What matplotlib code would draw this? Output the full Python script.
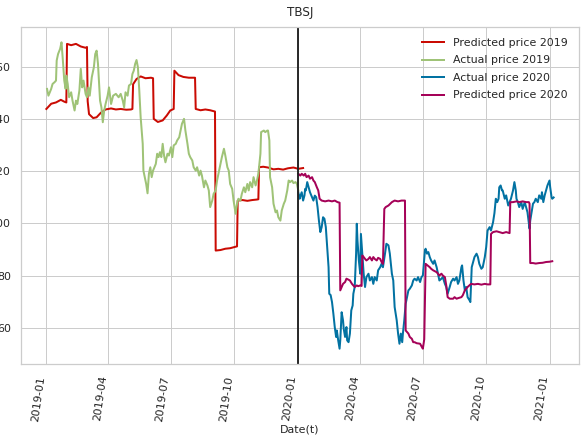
import pandas as pd
import matplotlib
matplotlib.use("Agg")
import matplotlib.pyplot as plt
import matplotlib.dates as mdates
from matplotlib.ticker import MultipleLocator

# Day offsets are counted from this date
base_date = pd.Timestamp("2019-01-01")
split_date = "2020-01-01"

# Predicted price for the 2019 period
pred19_day = [0, 7, 14, 21, 26, 29, 30, 36, 43, 50, 57, 59, 60, 62, 68, 73, 79, 86, 94, 101,
              108, 116, 123, 125, 126, 131, 137, 144, 152, 155, 156, 162, 169, 175, 180, 185, 186, 192, 199, 207,
              216, 217, 224, 231, 238, 245, 246, 253, 260, 267, 274, 277, 278, 285, 292, 299, 306, 308, 309, 315,
              322, 330, 337, 344, 351, 359, 366, 373]
pred19_val = [144, 146, 146.5, 147.5, 146.8, 146.5, 169, 168.5, 169, 168, 167.5, 167.8, 147, 142, 140.5, 140.8, 142.5, 143.8, 144.2, 143.8,
              144, 143.7, 143.8, 144, 153.5, 155.5, 156.5, 155.8, 156, 155.8, 140.2, 139, 139.6, 141.5, 143.4, 144, 158.7, 157, 156.3, 156,
              156, 144, 143.5, 143.8, 143.5, 143, 89.6, 89.8, 90.3, 90.5, 91, 91.2, 108.8, 109, 108.7, 109, 109.2, 109.3, 121.6, 121.8,
              121.5, 120.8, 121, 120.7, 121.2, 121.5, 121, 121.3]

# Actual price for 2019
act19_day = [1, 3, 5, 7, 9, 12, 14, 15, 17, 20, 22, 24, 26, 28, 29, 31, 33, 36, 38, 41,
             43, 45, 48, 50, 52, 54, 57, 59, 61, 63, 66, 69, 71, 73, 75, 77, 78, 80, 82, 84,
             86, 89, 91, 94, 97, 101, 105, 108, 111, 113, 115, 118, 120, 123, 125, 127, 129, 131, 133, 135,
             137, 140, 141, 143, 145, 147, 149, 151, 153, 155, 157, 159, 161, 163, 165, 167, 169, 171, 173, 176,
             178, 181, 183, 185, 188, 190, 193, 195, 197, 200, 202, 205, 207, 209, 212, 214, 217, 219, 222, 224,
             226, 229, 231, 234, 236, 238, 241, 243, 246, 248, 250, 253, 255, 258, 260, 263, 265, 267, 270, 272,
             275, 277, 279, 282, 284, 287, 289, 292, 294, 296, 299, 301, 304, 306, 308, 311, 312, 316, 318, 321,
             322, 324, 325, 328, 330, 333, 335, 337, 340, 342, 345, 347, 350, 352, 354, 357, 359, 362, 364, 366]
act19_val = [151.7, 149.1, 150.4, 151.7, 153.6, 154.3, 154.9, 162.6, 165.1, 167.1, 169.6, 162.6, 154.9, 151.7, 156.8, 153.6, 148.5, 150.4, 147.2, 143.4,
             147.2, 145.9, 151.1, 159.4, 152.3, 154.9, 149.8, 148.5, 152.3, 149.1, 156.2, 160, 165.1, 166.4, 161.3, 152.3, 147.2, 144.6, 138.9, 143.4,
             145.9, 149.1, 152.3, 145.9, 149.1, 149.8, 148.5, 149.8, 147.2, 144.6, 150.4, 149.1, 153, 153.6, 157.4, 158.7, 161.3, 162.8, 160, 151.1,
             140.8, 130.6, 120.3, 117.8, 115.2, 111.6, 119.1, 121.6, 117.8, 120.3, 121.6, 122.9, 126.8, 125.5, 127.4, 125.5, 130.6, 126.1, 123.5, 126.8,
             126.1, 129.3, 125.5, 130, 130.6, 131.9, 133.1, 135.7, 138.3, 140.2, 135.7, 130.6, 126.8, 125.5, 124.2, 121.6, 120.3, 121.6, 118.4, 120.3,
             118.4, 113.9, 116.5, 114.6, 112.7, 106.3, 108.8, 111.4, 112.7, 116.5, 119.1, 122.9, 125.5, 128.7, 126.1, 121.6, 120.3, 115.2, 113.3, 108.8,
             103.7, 107.6, 109.5, 108.8, 111.4, 113.9, 112, 115.2, 112.7, 115.9, 113.9, 117.8, 114.6, 116.5, 119.1, 126.8, 135.1, 135.7, 135.1, 135.7,
             135.7, 131.9, 117.8, 113.9, 107.6, 104.3, 105, 102.4, 101.1, 105, 107.6, 108.8, 112.7, 116.5, 115.9, 116.5, 115.5, 115.9, 115.2, 112.7]

# Actual price for 2020
act20_day = [366, 368, 369, 371, 373, 375, 376, 377, 379, 381, 383, 386, 388, 390, 392, 394, 396, 398, 400, 402,
             404, 406, 408, 410, 411, 413, 415, 417, 419, 421, 422, 424, 426, 427, 429, 431, 432, 434, 436, 437,
             439, 441, 443, 445, 446, 448, 450, 451, 452, 454, 456, 457, 459, 461, 463, 465, 468, 470, 473, 475,
             477, 480, 482, 485, 487, 489, 492, 494, 497, 499, 502, 504, 506, 509, 511, 513, 515, 517, 518, 520,
             522, 523, 526, 528, 531, 533, 535, 538, 540, 543, 545, 547, 550, 551, 553, 555, 557, 559, 562, 564,
             567, 569, 571, 574, 576, 579, 581, 583, 586, 588, 591, 593, 596, 598, 600, 603, 604, 606, 608, 610,
             612, 615, 616, 618, 620, 622, 625, 627, 629, 632, 634, 637, 639, 641, 644, 646, 649, 651, 653, 655,
             657, 658, 660, 662, 663, 666, 668, 671, 673, 675, 678, 680, 682, 683, 685, 687, 690, 692, 695, 697,
             699, 702, 703, 705, 707, 709, 711, 714, 716, 719, 720, 722, 724, 726, 728, 731, 732, 734, 735, 737]
act20_val = [112, 109.5, 110.5, 112, 108.8, 110.8, 113.3, 112.7, 115.9, 113.9, 112, 110.1, 108.8, 110.7, 110.1, 106.3, 101.1, 96.7, 98.6, 102.4,
             101.8, 98.6, 90.9, 83.2, 73, 72.5, 69.8, 65.3, 60.2, 56.4, 58.9, 55.1, 51.9, 55.1, 65.9, 62.8, 59.6, 56.4, 60.2, 55.1,
             54.4, 57.7, 66.6, 68.5, 73, 75.6, 88.4, 99.9, 93.5, 85.8, 80.7, 96, 88.4, 80.7, 75.6, 79.4, 80.7, 78.1, 79.4, 76.8,
             79.4, 78.1, 82, 83.2, 84.5, 83.2, 88.4, 92.2, 91.6, 88.4, 80.7, 78.1, 67.9, 62.8, 57.7, 53.8, 57.7, 54.4, 57.7, 62.8,
             69.2, 70.4, 74.3, 74.9, 76.2, 78.1, 78.8, 78.1, 79.4, 77.5, 79.4, 80, 89.6, 90.3, 88.4, 89, 87.1, 85.8, 84.5, 85.8,
             83.2, 80.7, 78.1, 78.8, 79.4, 76.8, 75.6, 73, 75.6, 77.5, 78.8, 78.1, 79.4, 76.8, 78.1, 83.2, 83.9, 78.1, 74.3, 75.6,
             71.7, 70.4, 69.8, 83.2, 85.2, 87.1, 88.4, 87.1, 84.5, 82.6, 83.2, 87.1, 90.9, 97.3, 98.6, 97.3, 100.5, 104, 109.5, 108.2,
             109.5, 113.9, 114.6, 112.7, 112.7, 109.5, 110.8, 106.9, 108.2, 109.5, 112.7, 115.9, 112.7, 109.5, 108.2, 106.3, 108.2, 105.6, 108.2, 106.3,
             104.3, 98, 101.1, 104.3, 107.6, 108.2, 109.5, 108.2, 110.8, 109.5, 112, 108.2, 110.8, 112.7, 114.6, 116.5, 113.9, 110.1, 109.5, 110]

# Predicted price for the 2020 period
pred20_day = [366, 369, 371, 374, 376, 378, 381, 383, 386, 388, 390, 393, 395, 397, 400, 405, 410, 415, 419, 423,
              426, 427, 431, 434, 436, 439, 441, 444, 446, 448, 451, 453, 456, 458, 459, 461, 463, 465, 468, 470,
              473, 475, 477, 480, 482, 485, 487, 489, 491, 493, 497, 502, 506, 511, 516, 521, 522, 526, 528, 531,
              533, 535, 538, 543, 545, 547, 549, 551, 557, 559, 562, 567, 569, 571, 574, 576, 579, 581, 583, 586,
              591, 593, 596, 598, 603, 605, 608, 612, 617, 622, 627, 632, 637, 641, 645, 646, 649, 654, 658, 663,
              668, 673, 674, 678, 683, 687, 692, 697, 701, 702, 703, 707, 711, 716, 721, 726, 731, 735]
pred20_val = [119.1, 118.4, 119.1, 118.4, 119.1, 117.8, 118.4, 117.2, 117.8, 116.5, 115.9, 113.9, 112.7, 109.5, 108.8, 108.5, 108.8, 108.5, 108.8, 108.2,
              108, 74.3, 76.8, 77.5, 78.8, 78.4, 78.1, 76.8, 76.2, 75.6, 76.2, 75.9, 76.2, 76, 87.7, 87.1, 86.4, 85.8, 86.4, 87.1,
              85.8, 87.1, 86.4, 85.8, 86.8, 86.4, 85.2, 84.5, 105.6, 106.3, 106.9, 108.2, 108.8, 108.5, 108.8, 108.8, 58.9, 57.7, 56.4, 55.7,
              54.4, 54.4, 54, 53.8, 52.8, 51.9, 55.5, 84.5, 83.2, 82.6, 82, 81.3, 80.7, 80, 80.7, 80, 79.4, 76.2, 71.7, 71.1,
              71.1, 71.7, 71.1, 71.3, 71.7, 72.4, 74.3, 75.6, 76.8, 76.6, 76.8, 76.5, 76.8, 76.6, 76.6, 96, 96.7, 97, 96.7, 96.3,
              96.7, 96.3, 108.2, 108.2, 108.5, 108.2, 108.5, 108.2, 108.2, 107.6, 84.8, 84.8, 84.6, 84.8, 84.9, 85.2, 85.3, 85.5]

series = [
    ("Predicted price 2019", pred19_day, pred19_val, "#ca0b03"),
    ("Actual price 2019", act19_day, act19_val, "#9fc377"),
    ("Actual price 2020", act20_day, act20_val, "#0272a2"),
    ("Predicted price 2020", pred20_day, pred20_val, "#a50258"),
]


def to_dates(days):
    return base_date + pd.to_timedelta(days, unit="D")


plt.rcParams["font.family"] = ["DejaVu Sans"]
plt.rcParams["text.color"] = "#262626"

W, H, DPI = 581, 441, 72
fig = plt.figure(figsize=(W / DPI, H / DPI), dpi=DPI)
ax = fig.add_axes([21 / W, 77 / H, 558 / W, 337 / H])
ax.set_facecolor("white")

for label, days, vals, color in series:
    ax.plot(to_dates(days), vals, color=color, lw=2, label=label)

ax.axvline(pd.Timestamp(split_date), color="#222222", lw=1.9)

ax.xaxis.set_major_locator(mdates.MonthLocator(bymonth=[1, 4, 7, 10]))
ax.xaxis.set_major_formatter(mdates.DateFormatter("%Y-%m"))
ax.yaxis.set_major_locator(MultipleLocator(20))

ax.grid(True, color="#cccccc", lw=1)
ax.set_axisbelow(True)
for s in ax.spines.values():
    s.set_color("#cccccc")
    s.set_linewidth(1.25)

ax.tick_params(axis="both", length=0, labelsize=11, labelcolor="#262626")
ax.tick_params(axis="x", pad=11)
ax.tick_params(axis="y", pad=10)
for lbl in ax.get_xticklabels():
    lbl.set_rotation(82)
    lbl.set_ha("right")

ax.set_title("TBSJ", fontsize=12, color="#262626", pad=11)
ax.set_xlabel("Date(t)", fontsize=11, color="#262626", labelpad=3)
ax.legend(loc="upper right", frameon=False, fontsize=11, labelspacing=0.68,
          borderaxespad=0.6)

fig.savefig("out.png", dpi=DPI)
